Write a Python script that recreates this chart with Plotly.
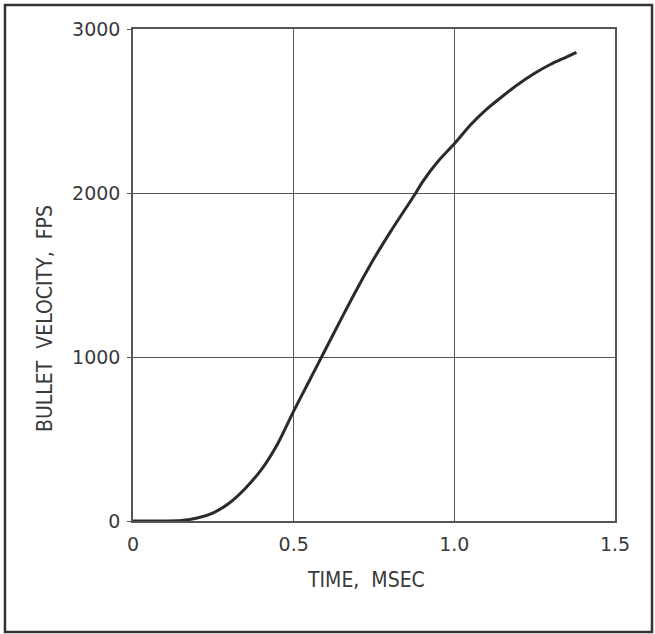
import plotly.graph_objects as go

# Data
time_ms = [0.00, 0.05, 0.10, 0.15, 0.20, 0.25, 0.30, 0.35, 0.40, 0.45,
           0.50, 0.55, 0.60, 0.65, 0.70, 0.75, 0.80, 0.85, 0.88, 0.90,
           0.95, 1.00, 1.05, 1.10, 1.15, 1.20, 1.25, 1.30, 1.35, 1.38]
velocity_fps = [0, 0, 0, 3, 18, 50, 110, 200, 315, 470,
                670, 860, 1050, 1240, 1425, 1600, 1760, 1910, 2000, 2065,
                2195, 2300, 2415, 2510, 2590, 2665, 2730, 2785, 2830, 2858]

x_tick_vals = [0, 0.5, 1.0, 1.5]
x_tick_text = ["0", "0.5", "1.0", "1.5"]
y_tick_vals = [0, 1000, 2000, 3000]
y_tick_text = ["0", "1000", "2000", "3000"]

x_title = "TIME,  MSEC"
y_title = "BULLET  VELOCITY,  FPS"

tick_font = "DejaVu Sans, Liberation Sans, sans-serif"
title_font = "DejaVu Sans Condensed, DejaVu Sans, sans-serif"
ink = "#3a3a3a"
grid = "#555555"

fig = go.Figure()
fig.add_trace(go.Scatter(
    x=time_ms, y=velocity_fps, mode="lines",
    line=dict(color="#2a2a2a", width=3, shape="spline", smoothing=0.8),
    hoverinfo="skip", showlegend=False,
))

fig.update_layout(
    width=655, height=634,
    margin=dict(l=133, r=40, t=29, b=113),
    paper_bgcolor="white", plot_bgcolor="white",
    font=dict(family=tick_font, color=ink, size=19),
    showlegend=False,
    xaxis=dict(
        range=[0, 1.5], tickvals=x_tick_vals, ticktext=x_tick_text,
        showgrid=True, gridcolor=grid, gridwidth=1,
        showline=True, linecolor=grid, linewidth=1.5, mirror=True,
        zeroline=False, ticks="", tickfont=dict(size=19, color=ink),
        ticklabelstandoff=5,
        fixedrange=True,
    ),
    yaxis=dict(
        range=[0, 3000], tickvals=y_tick_vals, ticktext=y_tick_text,
        showgrid=True, gridcolor=grid, gridwidth=1,
        showline=True, linecolor=grid, linewidth=1.5, mirror=True,
        zeroline=False, ticks="outside", ticklen=4, tickcolor=grid,
        tickfont=dict(size=19, color=ink), ticklabelstandoff=3,
        fixedrange=True,
    ),
    annotations=[
        dict(text=x_title, xref="paper", yref="paper", x=0.4844, y=-0.1199,
             xanchor="center", yanchor="middle", showarrow=False,
             font=dict(family=title_font, size=21, color=ink)),
        dict(text=y_title, xref="paper", yref="paper", x=-0.1826, y=0.4126,
             xanchor="center", yanchor="middle", showarrow=False, textangle=-90,
             font=dict(family=title_font, size=21, color=ink)),
    ],
    shapes=[dict(
        type="rect", xref="paper", yref="paper",
        x0=-0.2656, x1=1.0768, y0=-0.2256, y1=1.0488,
        line=dict(color="#333333", width=2.5), fillcolor="rgba(0,0,0,0)",
        layer="below",
    )],
)

fig.write_html("out.html", config={"displayModeBar": False},
               post_script="document.body.style.margin='0px';")
